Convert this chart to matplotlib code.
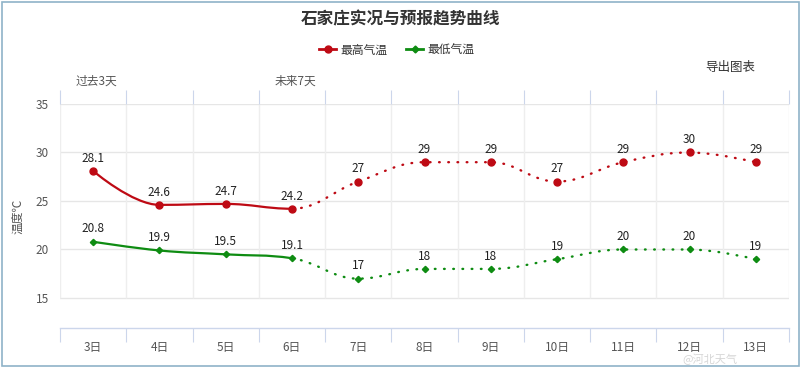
import matplotlib
matplotlib.use("Agg")
import matplotlib.pyplot as plt
from matplotlib.path import Path
from matplotlib.patches import PathPatch, Rectangle
from matplotlib.lines import Line2D

plt.rcParams['font.family'] = ['Noto Sans CJK SC', 'DejaVu Sans']

days = ["3日", "4日", "5日", "6日", "7日", "8日", "9日", "10日", "11日", "12日", "13日"]
t_max = [28.1, 24.6, 24.7, 24.2, 27, 29, 29, 27, 29, 30, 29]
t_min = [20.8, 19.9, 19.5, 19.1, 17, 18, 18, 19, 20, 20, 19]
max_labels = ["28.1", "24.6", "24.7", "24.2", "27", "29", "29", "27", "29", "30", "29"]
min_labels = ["20.8", "19.9", "19.5", "19.1", "17", "18", "18", "19", "20", "20", "19"]
n_past = 4  # observed points (solid line), rest dotted
y_ticks = [15, 20, 25, 30, 35]

RED = "#BE0A14"
GREEN = "#0E8C12"
GRID = "#E6E6E6"
AXIS = "#CCD6EB"
TXT = "#555555"

W, H = 802, 370
fig = plt.figure(figsize=(W / 100, H / 100), dpi=100)
fig.patch.set_facecolor("white")
# outer border
fig.patches.append(Rectangle((2 / W, 4 / H), 797 / W, 364 / H, transform=fig.transFigure,
                             fill=False, edgecolor="#8FB3C8", lw=1.2))

x0, x1 = 60, 789
ytop, ybot = 104, 328
ax = fig.add_axes([x0 / W, 1 - ybot / H, (x1 - x0) / W, (ybot - ytop) / H])
ymin = 15 - (ybot - 298) / ((298 - ytop) / 20)
ax.set_ylim(ymin, 35)
ncat = len(days)
ax.set_xlim(-0.5, ncat - 0.5)
for s in ["top", "left", "right"]:
    ax.spines[s].set_visible(False)
ax.spines["bottom"].set_color(AXIS)
ax.spines["bottom"].set_linewidth(1)

# horizontal grid
for yv in y_ticks:
    ax.axhline(yv, color=GRID, lw=1, zorder=0)
# vertical grid at category boundaries
bounds = [i - 0.5 for i in range(ncat + 1)]
ax.vlines(bounds, 15, 35, color="#EEEEEE", lw=1, zorder=0)

ax.set_yticks(y_ticks)
ax.set_yticklabels([str(v) for v in y_ticks], fontsize=8.5, color=TXT)
ax.tick_params(axis="y", length=0, pad=8)

ax.set_xticks(bounds)
ax.set_xticklabels([])
ax.tick_params(axis="x", which="major", length=10, color=AXIS, direction="out", top=True)
ax.set_xticks(range(ncat), minor=True)
ax.set_xticklabels(days, minor=True, fontsize=8.5, color=TXT)
ax.tick_params(axis="x", which="minor", length=0, pad=9)
ax.set_ylabel("温度℃", fontsize=8.5, color=TXT, labelpad=8)


def spline_path(xs, ys, smoothing=1.5):
    denom = smoothing + 1
    n = len(xs)
    lefts, rights = [], []
    for i in range(n):
        px, py = xs[i], ys[i]
        if 0 < i < n - 1:
            lx, ly = xs[i - 1], ys[i - 1]
            nx, ny = xs[i + 1], ys[i + 1]
            lcx = (smoothing * px + lx) / denom
            lcy = (smoothing * py + ly) / denom
            rcx = (smoothing * px + nx) / denom
            rcy = (smoothing * py + ny) / denom
            corr = ((rcy - lcy) * (rcx - px)) / (rcx - lcx) + py - rcy
            lcy += corr
            rcy += corr
            if lcy > ly and lcy > py:
                lcy = max(ly, py); rcy = 2 * py - lcy
            elif lcy < ly and lcy < py:
                lcy = min(ly, py); rcy = 2 * py - lcy
            if rcy > ny and rcy > py:
                rcy = max(ny, py); lcy = 2 * py - rcy
            elif rcy < ny and rcy < py:
                rcy = min(ny, py); lcy = 2 * py - rcy
            lefts.append((lcx, lcy)); rights.append((rcx, rcy))
        else:
            lefts.append((px, py)); rights.append((px, py))
    segs = []
    for i in range(1, n):
        segs.append([(xs[i - 1], ys[i - 1]), rights[i - 1], lefts[i], (xs[i], ys[i])])
    return segs


def draw_series(vals, color, marker, ms, labels):
    xs = list(range(len(vals)))
    segs = spline_path(xs, vals)
    def mk(seglist):
        verts, codes = [], []
        for k, s in enumerate(seglist):
            if k == 0:
                verts.append(s[0]); codes.append(Path.MOVETO)
            verts += s[1:]; codes += [Path.CURVE4] * 3
        return Path(verts, codes)
    solid = mk(segs[:n_past - 1])
    dotted = mk(segs[n_past - 1:])
    ax.add_patch(PathPatch(solid, fill=False, edgecolor=color, lw=1.6, zorder=3, capstyle="round"))
    ax.add_patch(PathPatch(dotted, fill=False, edgecolor=color, lw=1.7, zorder=3,
                           linestyle=(0, (0.3, 3.6)), capstyle="round"))
    ax.plot(xs, vals, linestyle="none", marker=marker, ms=ms, color=color, zorder=4)
    for x, v, t in zip(xs, vals, labels):
        ax.annotate(t, (x, v), xytext=(0, 4.5), textcoords="offset points", ha="center",
                    va="bottom", fontsize=8.5, color="#222222", zorder=5)


draw_series(t_max, RED, "o", 5, max_labels)
draw_series(t_min, GREEN, "D", 3.2, min_labels)

# title, legend, extra labels
fig.text(401 / W, 1 - 19 / H, "石家庄实况与预报趋势曲线", ha="center", va="center",
         fontsize=12, fontweight="bold", color="#333333")
handles = [Line2D([0], [0], color=RED, lw=2, marker="o", ms=5),
           Line2D([0], [0], color=GREEN, lw=2, marker="D", ms=3.5)]
fig.legend(handles, ["最高气温", "最低气温"], loc="center", bbox_to_anchor=(397 / W, 1 - 50 / H),
           ncol=2, frameon=False, fontsize=8.5, handlelength=1.4, handletextpad=0.4,
           columnspacing=1.6, labelcolor="#333333")
fig.text(730 / W, 1 - 68 / H, "导出图表", ha="center", va="center", fontsize=9, color="#333333")
fig.text(96 / W, 1 - 81 / H, "过去3天", ha="center", va="center", fontsize=8.5, color=TXT)
fig.text(295 / W, 1 - 81 / H, "未来7天", ha="center", va="center", fontsize=8.5, color=TXT)
fig.text(710 / W, 1 - 359 / H, "@河北天气", ha="center", va="center", fontsize=8,
         color="#BBBBBB", alpha=0.6)

fig.savefig("out.png", dpi=100, facecolor="white")
